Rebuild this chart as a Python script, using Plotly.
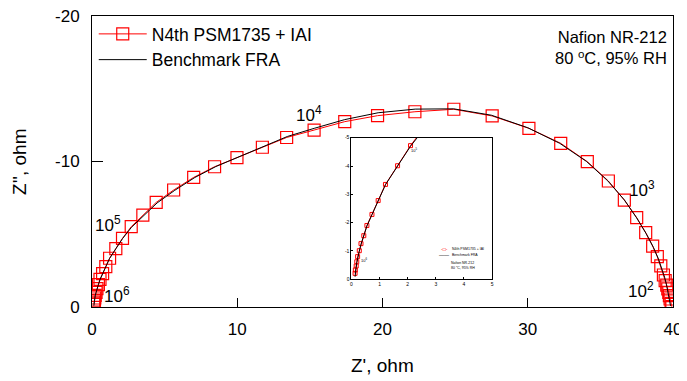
import plotly.graph_objects as go

# N4th PSM1735 + IAI (red squares), Z' and Z'' in ohm
red_x = [0.13, 0.14, 0.17, 0.19, 0.22, 0.28, 0.34, 0.44, 0.55, 0.73, 0.95, 1.21, 1.64, 2.10,
         2.70, 3.50, 4.42, 5.62, 7.00, 8.44, 9.98, 11.73, 13.40, 15.29, 17.40, 19.66, 22.23,
         24.91, 27.55, 30.08, 32.27, 34.10, 35.55, 36.65, 37.50, 38.12, 38.60, 38.92, 39.16,
         39.34, 39.46, 39.57, 39.64, 39.71, 39.75, 39.80, 39.87, 39.92]
red_y = [-0.21, -0.33, -0.47, -0.62, -0.80, -1.01, -1.26, -1.54, -1.90, -2.29, -2.78, -3.35, -4.01, -4.72,
         -5.52, -6.32, -7.19, -8.04, -8.91, -9.64, -10.26, -10.98, -11.65, -12.16, -12.74, -13.15, -13.42,
         -13.59, -13.13, -12.28, -11.25, -9.99, -8.66, -7.35, -6.14, -5.11, -4.19, -3.46, -2.82,
         -2.20, -1.81, -1.51, -1.24, -1.01, -0.78, -0.55, -0.25, -0.02]

# Benchmark FRA (black line)
blk_x = [0.13, 0.14, 0.17, 0.19, 0.22, 0.28, 0.34, 0.44, 0.55, 0.73, 0.95, 1.21, 1.64, 2.10,
         2.72, 3.55, 4.48, 5.70, 7.08, 8.52, 10.05, 11.80, 13.45, 15.30, 17.40, 19.70, 22.25,
         24.90, 27.50, 30.00, 32.20, 34.05, 35.50, 36.65, 37.50, 38.15, 38.65, 39.00, 39.25,
         39.42, 39.55, 39.64, 39.70, 39.75, 39.80, 39.83]
blk_y = [-0.09, -0.25, -0.42, -0.58, -0.77, -0.99, -1.24, -1.53, -1.88, -2.28, -2.77, -3.34, -4.00, -4.70,
         -5.48, -6.28, -7.15, -8.02, -8.90, -9.65, -10.30, -11.05, -11.72, -12.28, -12.88, -13.35, -13.60,
         -13.62, -13.18, -12.32, -11.25, -10.00, -8.68, -7.36, -6.12, -5.05, -4.10, -3.30, -2.62,
         -2.05, -1.55, -1.15, -0.80, -0.50, -0.25, -0.08]

main_xticks = [0, 10, 20, 30, 40]
main_yticks = [0, -10, -20]
inset_xticks = [0, 1, 2, 3, 4, 5]
inset_yticks = [0, -1, -2, -3, -4, -5]

series_names = ["N4th PSM1735 + IAI", "Benchmark FRA"]
freq_labels = ["10<sup>6</sup>", "10<sup>5</sup>", "10<sup>4</sup>", "10<sup>3</sup>", "10<sup>2</sup>"]

FONT = "Liberation Sans, Arial, sans-serif"
RED = "#ff0000"

fig = go.Figure()

# main plot
fig.add_trace(go.Scatter(x=red_x, y=red_y, mode="lines+markers", name=series_names[0],
                         line=dict(color=RED, width=1),
                         marker=dict(symbol="square-open", size=12, color=RED, line=dict(width=1.2)),
                         xaxis="x", yaxis="y"))
fig.add_trace(go.Scatter(x=blk_x, y=blk_y, mode="lines", name=series_names[1],
                         line=dict(color="black", width=1), xaxis="x", yaxis="y"))

# inset
fig.add_trace(go.Scatter(x=red_x, y=red_y, mode="lines+markers", showlegend=False,
                         line=dict(color=RED, width=1),
                         marker=dict(symbol="square-open", size=4, color=RED, line=dict(width=1)),
                         xaxis="x2", yaxis="y2"))
fig.add_trace(go.Scatter(x=blk_x, y=blk_y, mode="lines", showlegend=False,
                         line=dict(color="black", width=1), xaxis="x2", yaxis="y2"))

axis_common = dict(showgrid=False, zeroline=False, showline=True, linecolor="black",
                   linewidth=1, mirror=True, ticks="inside", tickcolor="black",
                   automargin=False, ticklabeloverflow="allow")

# page body has an 8px default margin, so the figure is 8px smaller than the window
fig.update_layout(
    width=679, height=373,
    margin=dict(l=84, r=14, t=8, b=74),
    paper_bgcolor="white", plot_bgcolor="white",
    font=dict(family=FONT, color="black"),
    showlegend=True,
    legend=dict(x=0.003, y=1.0, xanchor="left", yanchor="top",
                font=dict(size=17.5, family=FONT), bgcolor="rgba(0,0,0,0)",
                tracegroupgap=0, itemwidth=48),
    xaxis=dict(axis_common, range=[0, 40], tickvals=main_xticks,
               ticktext=[str(v) for v in main_xticks], ticklen=9,
               tickfont=dict(size=17), ticklabelstandoff=7, domain=[0, 1]),
    yaxis=dict(axis_common, range=[0, -20], tickvals=main_yticks,
               ticktext=[str(v) for v in main_yticks], ticklen=11,
               tickfont=dict(size=17), ticklabelstandoff=8, domain=[0, 1]),
    xaxis2=dict(axis_common, range=[0, 5], tickvals=inset_xticks,
                ticktext=[str(v) for v in inset_xticks], ticklen=2,
                tickfont=dict(size=5), anchor="y2", domain=[0.4465, 0.6887]),
    yaxis2=dict(axis_common, range=[0, -5], tickvals=inset_yticks,
                ticktext=[str(v) for v in inset_yticks], ticklen=2,
                tickfont=dict(size=5), anchor="x2", domain=[0.0952, 0.5818]),
)

annotations = [
    # axis titles
    dict(text="Z', ohm", xref="paper", yref="paper", x=0.5, y=-0.2, yanchor="middle",
         showarrow=False, font=dict(size=19)),
    dict(text="Z'', ohm", xref="paper", yref="paper", x=-0.125, y=0.5, textangle=-90,
         xanchor="center", showarrow=False, font=dict(size=19)),
    dict(text="Nafion NR-212<br>80 <sup>o</sup>C, 95% RH", xref="paper", yref="paper",
         x=0.993, y=0.965, xanchor="right", yanchor="top", align="right", showarrow=False,
         font=dict(size=16.5)),
    dict(text=freq_labels[0], x=1.72, y=-0.82, xref="x", yref="y", showarrow=False, font=dict(size=17)),
    dict(text=freq_labels[1], x=1.10, y=-5.70, xref="x", yref="y", showarrow=False, font=dict(size=17)),
    dict(text=freq_labels[2], x=14.92, y=-13.27, xref="x", yref="y", showarrow=False, font=dict(size=17)),
    dict(text=freq_labels[3], x=37.87, y=-8.11, xref="x", yref="y", showarrow=False, font=dict(size=17)),
    dict(text=freq_labels[4], x=37.80, y=-1.17, xref="x", yref="y", showarrow=False, font=dict(size=17)),
    # inset axis titles
    dict(text="Z', ohm", x=2.5, y=0.45, xref="x2", yref="y2", showarrow=False, font=dict(size=5)),
    dict(text="Z'', ohm", x=-0.55, y=-2.5, xref="x2", yref="y2", textangle=-90,
         showarrow=False, font=dict(size=5)),
    # inset frequency labels
    dict(text=freq_labels[1], x=2.24, y=-4.58, xref="x2", yref="y2", showarrow=False, font=dict(size=4)),
    dict(text=freq_labels[0], x=0.44, y=-0.69, xref="x2", yref="y2", showarrow=False, font=dict(size=4)),
    # inset legend
    dict(text="-□-", x=3.30, y=-1.07, xref="x2", yref="y2", showarrow=False,
         font=dict(size=5, color=RED)),
    dict(text="——", x=3.30, y=-0.86, xref="x2", yref="y2", showarrow=False,
         font=dict(size=5, color="black")),
    dict(text=series_names[0], x=3.52, y=-1.07, xref="x2", yref="y2", xanchor="left",
         showarrow=False, font=dict(size=3.5)),
    dict(text=series_names[1], x=3.52, y=-0.86, xref="x2", yref="y2", xanchor="left",
         showarrow=False, font=dict(size=3.5)),
    dict(text="Nafion NR-212<br>80 <sup>o</sup>C, 95% RH", x=3.48, y=-0.48, xref="x2", yref="y2",
         xanchor="left", align="left", showarrow=False, font=dict(size=3.5)),
]
fig.update_layout(annotations=annotations)

fig.write_html("out.html")
